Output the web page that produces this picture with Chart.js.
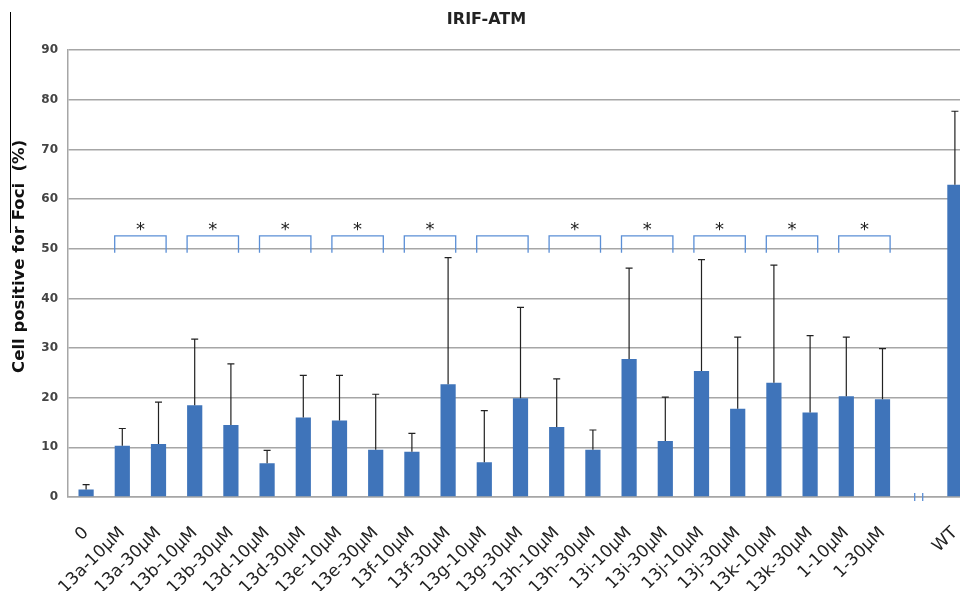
<!DOCTYPE html>
<html>
<head>
<meta charset="utf-8">
<title>IRIF-ATM</title>
<script src="https://cdn.jsdelivr.net/npm/chart.js@4.4.1/dist/chart.umd.min.js"></script>
<style>
  html, body { margin: 0; padding: 0; background: #fff; overflow: hidden; }
</style>
</head>
<body>
<canvas id="atmChart" width="975" height="591"></canvas>
<script>
// categories (the empty one is the axis break before WT)
var categories = ['0', '13a-10μM', '13a-30μM', '13b-10μM', '13b-30μM', '13d-10μM', '13d-30μM',
  '13e-10μM', '13e-30μM', '13f-10μM', '13f-30μM', '13g-10μM', '13g-30μM', '13h-10μM', '13h-30μM',
  '13i-10μM', '13i-30μM', '13j-10μM', '13j-30μM', '13k-10μM', '13k-30μM', '1-10μM', '1-30μM', '', 'WT'];

// mean % of cells positive for foci
var meanValues = [1.5, 10.3, 10.7, 18.5, 14.5, 6.8, 16, 15.4, 9.5, 9.1, 22.7, 7.0, 19.9, 14.1, 9.5,
  27.8, 11.3, 25.4, 17.8, 23, 17, 20.3, 19.7, null, 62.9];

// top of the (upper) error bar
var errorTops = [2.5, 13.8, 19.1, 31.8, 26.8, 9.4, 24.5, 24.5, 20.7, 12.8, 48.2, 17.4, 38.2, 23.8, 13.5,
  46.1, 20.1, 47.8, 32.2, 46.7, 32.5, 32.2, 29.9, null, 77.7];

// brackets: index of first bar of each pair, and whether a star is shown
var bracketStarts = [1, 3, 5, 7, 9, 11, 13, 15, 17, 19, 21];
var bracketStars = [true, true, true, true, true, false, true, true, true, true, true];

var yTicks = { min: 0, max: 90, step: 10 };

var barColor = '#3f74ba';
var bracketColor = '#5b8fd6';
var gridColor = '#a6a6a6';
var fontFamily = '"DejaVu Sans", sans-serif';

// draws error bars, brackets with stars, the axis break marks and the left rule
var extrasPlugin = {
    id: 'extras',
    afterDatasetsDraw: function(chart) {
        var ctx = chart.ctx;
        var meta = chart.getDatasetMeta(0);
        var yScale = chart.scales.y;
        var xScale = chart.scales.x;
        ctx.save();

        // error bars
        ctx.strokeStyle = '#222';
        ctx.lineWidth = 1.2;
        for (var i = 0; i < meanValues.length; i++) {
            if (meanValues[i] === null || errorTops[i] === null) continue;
            var x = meta.data[i].x;
            var y1 = yScale.getPixelForValue(meanValues[i]);
            var y2 = yScale.getPixelForValue(errorTops[i]);
            ctx.beginPath();
            ctx.moveTo(x, y1);
            ctx.lineTo(x, y2);
            ctx.moveTo(x - 3.5, y2);
            ctx.lineTo(x + 3.5, y2);
            ctx.stroke();
        }

        // brackets
        var yTop = yScale.getPixelForValue(52.6);
        var yBot = yScale.getPixelForValue(49.2);
        ctx.strokeStyle = bracketColor;
        ctx.lineWidth = 1.3;
        ctx.fillStyle = '#222';
        ctx.font = '18px ' + fontFamily;
        ctx.textAlign = 'center';
        ctx.textBaseline = 'alphabetic';
        for (var b = 0; b < bracketStarts.length; b++) {
            var s = bracketStarts[b];
            var half = meta.data[s].width / 2;
            var xl = meta.data[s].x - half;
            var xr = meta.data[s + 1].x + half;
            ctx.beginPath();
            ctx.moveTo(xl, yBot);
            ctx.lineTo(xl, yTop);
            ctx.lineTo(xr, yTop);
            ctx.lineTo(xr, yBot);
            ctx.stroke();
            if (bracketStars[b]) {
                ctx.fillText('*', (xl + xr) / 2, yTop - 0.5);
            }
        }

        // axis break marks
        var gx = xScale.getPixelForValue(23);
        var gy = yScale.getPixelForValue(0);
        ctx.strokeStyle = bracketColor;
        ctx.lineWidth = 1.3;
        ctx.beginPath();
        ctx.moveTo(gx - 4, gy - 4);
        ctx.lineTo(gx - 4, gy + 4);
        ctx.moveTo(gx + 4, gy - 4);
        ctx.lineTo(gx + 4, gy + 4);
        ctx.stroke();

        // thin rule at the far left
        ctx.strokeStyle = '#000';
        ctx.lineWidth = 1;
        ctx.beginPath();
        ctx.moveTo(10.5, 12);
        ctx.lineTo(10.5, 233);
        ctx.stroke();

        ctx.restore();
    }
};

var ctx = document.getElementById('atmChart');
var myChart = new Chart(ctx, {
    type: 'bar',
    data: {
        labels: categories,
        datasets: [
            {
                label: 'IRIF-ATM',
                backgroundColor: barColor,
                data: meanValues,
                barPercentage: 0.42,
                categoryPercentage: 1.0
            }
        ]
    },
    options: {
        responsive: false,
        animation: false,
        layout: { padding: { left: 0, right: 2, top: 0, bottom: 0 } },
        plugins: {
            legend: { display: false },
            tooltip: { enabled: false },
            title: {
                display: true,
                text: 'IRIF-ATM',
                color: '#222',
                font: { family: fontFamily, size: 16, weight: 'bold' },
                padding: { top: 10, bottom: 21 }
            }
        },
        scales: {
            x: {
                grid: { display: false, drawTicks: false },
                border: { color: gridColor, width: 1.5 },
                ticks: {
                    color: '#222',
                    font: { family: fontFamily, size: 17 },
                    minRotation: 45,
                    maxRotation: 45,
                    autoSkip: false,
                    padding: 26
                },
                afterFit: function(scale) {
                    scale.height = 94;
                    scale.paddingLeft = 0;
                    scale.paddingRight = 0;
                }
            },
            y: {
                min: yTicks.min,
                max: yTicks.max,
                grid: { color: gridColor, lineWidth: 1.5, drawTicks: false },
                border: { color: gridColor, width: 1.5 },
                ticks: {
                    stepSize: yTicks.step,
                    color: '#444',
                    font: { family: fontFamily, size: 12, weight: 'bold' },
                    padding: 10
                },
                title: {
                    display: true,
                    text: '      Cell positive for Foci  (%)',
                    color: '#111',
                    font: { family: fontFamily, size: 16.5, weight: 'bold' },
                    padding: { top: 10, bottom: 0 }
                },
                afterFit: function(scale) { scale.width = 68; }
            }
        }
    },
    plugins: [extrasPlugin]
});
</script>
</body>
</html>
